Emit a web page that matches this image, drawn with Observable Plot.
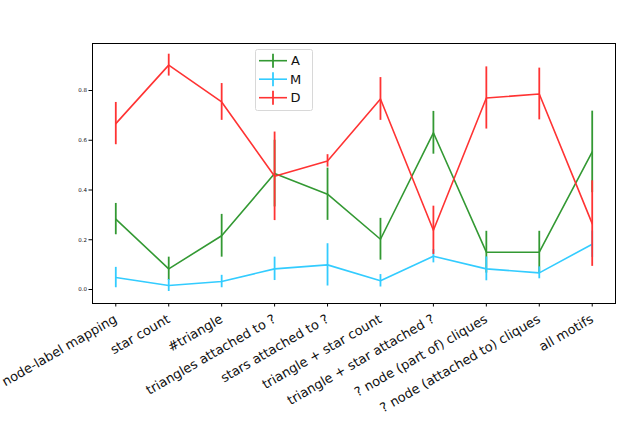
<!DOCTYPE html>
<html>
<head>
<meta charset="utf-8">
<script src="https://cdn.jsdelivr.net/npm/d3@7"></script>
<script src="https://cdn.jsdelivr.net/npm/@observablehq/plot@0.6"></script>
<style>
  html, body { margin: 0; padding: 0; background: #fff; }
  #chart { width: 629px; height: 426px; }
</style>
</head>
<body>
<div id="chart"></div>
<script>
const categories = [
  "node-label mapping", "star count", "#triangle", "triangles attached to ?",
  "stars attached to ?", "triangle + star count", "triangle + star attached ?",
  "? node (part of) cliques", "? node (attached to) cliques", "all motifs"
];
const seriesNames = ["A", "M", "D"];
const seriesColors = ["#339933", "#33ccff", "#ff3333"];
const valuesA = [0.283, 0.083, 0.216, 0.466, 0.383, 0.202, 0.630, 0.150, 0.150, 0.553];
const errorsA = [0.063, 0.047, 0.086, 0.134, 0.105, 0.084, 0.086, 0.084, 0.084, 0.164];
const valuesM = [0.048, 0.016, 0.032, 0.083, 0.099, 0.035, 0.134, 0.083, 0.067, 0.182];
const errorsM = [0.041, 0.024, 0.025, 0.047, 0.085, 0.025, 0.027, 0.048, 0.024, 0.053];
const valuesD = [0.667, 0.902, 0.754, 0.455, 0.517, 0.766, 0.238, 0.770, 0.786, 0.265];
const errorsD = [0.085, 0.044, 0.074, 0.178, 0.025, 0.086, 0.097, 0.125, 0.104, 0.172];
const yTicks = [0.0, 0.2, 0.4, 0.6, 0.8];

const allValues = [valuesA, valuesM, valuesD];
const allErrors = [errorsA, errorsM, errorsD];
const rows = [];
seriesNames.forEach((s, si) => {
  categories.forEach((c, i) => {
    rows.push({series: s, idx: i, value: allValues[si][i], err: allErrors[si][i]});
  });
});

const marks = [];
seriesNames.forEach((s, si) => {
  const d = rows.filter(r => r.series === s);
  marks.push(Plot.line(d, {x: "idx", y: "value", stroke: seriesColors[si], strokeWidth: 1.6}));
  marks.push(Plot.ruleX(d, {x: "idx", y1: r => r.value - r.err, y2: r => r.value + r.err, stroke: seriesColors[si], strokeWidth: 1.8}));
});

const chart = Plot.plot({
  width: 629,
  height: 426,
  marginLeft: 92,
  marginRight: 14,
  marginTop: 43,
  marginBottom: 123,
  style: {fontFamily: "DejaVu Sans", background: "#fff", overflow: "visible"},
  x: {domain: [-0.44, 9.44], axis: null, label: null},
  y: {domain: [-0.0563, 0.989], axis: null, label: null},
  marks: [
    ...marks,
    Plot.frame({stroke: "black", strokeWidth: 1}),
    Plot.axisY(yTicks, {tickSize: 3.5, tickPadding: 2, fontSize: 5.5, tickFormat: d => d.toFixed(1), stroke: "black", fill: "#111", label: null}),
    Plot.axisX(d3.range(categories.length), {tickSize: 3.5, tickPadding: 11, fontSize: 13, tickRotate: -30, tickFormat: i => categories[i], stroke: "black", fill: "#111", label: null})
  ]
});
document.getElementById("chart").appendChild(chart);

// legend
const svg = d3.select(chart);
const lg = svg.append("g").attr("font-family", "DejaVu Sans");
lg.append("rect").attr("x", 255.5).attr("y", 49.5).attr("width", 57).attr("height", 61)
  .attr("rx", 2).attr("fill", "white").attr("fill-opacity", 0.8).attr("stroke", "#d8d8d8");
seriesNames.forEach((s, i) => {
  const y = 60.7 + i * 18.5;
  lg.append("line").attr("x1", 259).attr("x2", 287).attr("y1", y).attr("y2", y)
    .attr("stroke", seriesColors[i]).attr("stroke-width", 1.6);
  lg.append("line").attr("x1", 273).attr("x2", 273).attr("y1", y - 7).attr("y2", y + 7)
    .attr("stroke", seriesColors[i]).attr("stroke-width", 1.8);
  lg.append("text").attr("x", 295.5).attr("y", y).attr("dy", "0.36em")
    .attr("font-size", 13).attr("fill", "#111").text(s);
});
</script>
</body>
</html>
